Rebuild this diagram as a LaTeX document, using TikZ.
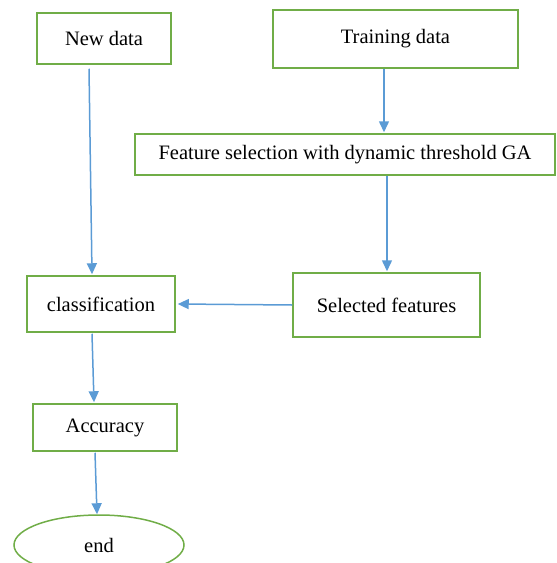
\documentclass[tikz,border=0pt]{standalone}
\usepackage{fontspec}
\setmainfont{Liberation Serif}
\usetikzlibrary{arrows.meta,shapes.geometric,calc}
\definecolor{boxgreen}{RGB}{112,173,71}
\definecolor{arrowblue}{RGB}{91,155,213}
\begin{document}
\begin{tikzpicture}[x=1pt,y=-1pt,
  box/.style={draw=boxgreen,line width=1.5pt,rectangle,inner sep=0pt,font=\fontsize{20.5}{24}\selectfont},
  flow/.style={draw=arrowblue,line width=1.5pt,-{Triangle[length=11pt,width=10pt]}}]
\useasboundingbox (0,0) rectangle (557,563);
\clip (0,0) rectangle (557,563);
\node[box,minimum width=134pt,minimum height=51pt] (new) at (104,38.5) {New data};
\node[box,minimum width=245pt,minimum height=58pt] (train) at (395.5,39) {Training data};
\node[box,minimum width=420pt,minimum height=41pt] (fs) at (345,154.5) {Feature selection with dynamic threshold GA};
\node[box,minimum width=187pt,minimum height=64pt] (sel) at (386.5,305) {Selected features};
\node[box,minimum width=148pt,minimum height=56pt] (cls) at (101,304) {classification};
\node[box,minimum width=144pt,minimum height=47pt] (acc) at (105,427.5) {Accuracy};
\node[box,ellipse,minimum width=170pt,minimum height=60pt] (end) at (99,545) {end};
\draw[flow] ($(new.south)+(-15,4)$) -- ($(cls.north)+(-9,-1)$);
\draw[flow] ($(train.south)+(-11.5,0)$) -- ($(fs.north)+(39,-1)$);
\draw[flow] ($(fs.south)+(42,0)$) -- ($(sel.north)+(0.5,-1)$);
\draw[flow] (sel.west) -- ($(cls.east)+(2,0)$);
\draw[flow] ($(cls.south)+(-9,1)$) -- ($(acc.north)+(-11,-1)$);
\draw[flow] ($(acc.south)+(-10,1)$) -- ($(end.north)+(-2,0)$);
\end{tikzpicture}
\end{document}
